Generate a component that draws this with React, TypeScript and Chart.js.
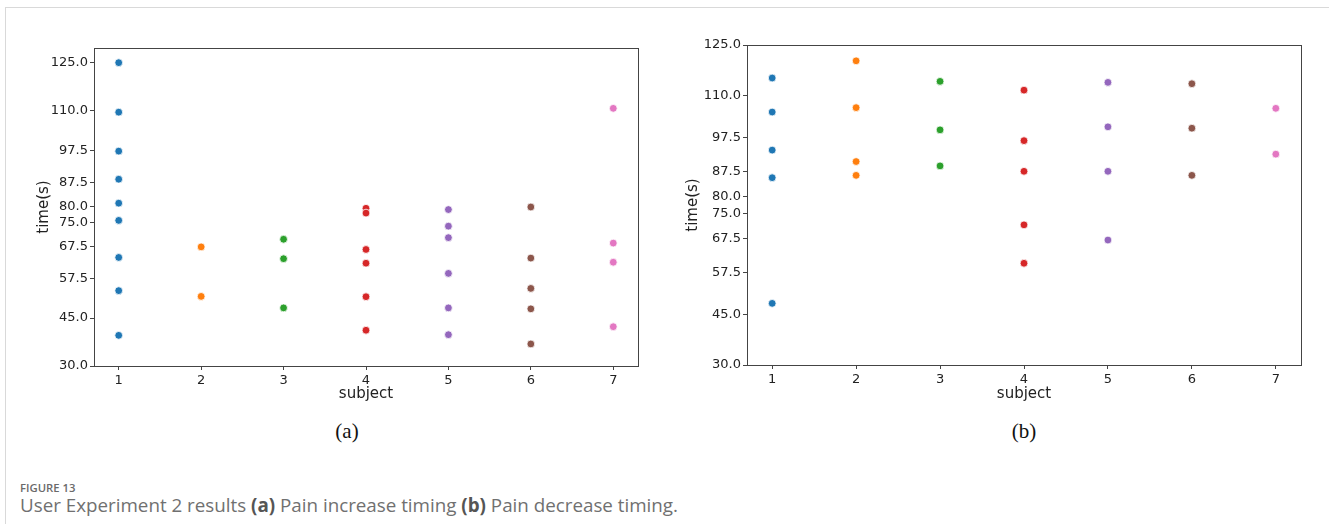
import React, { useEffect, useRef } from "react";
import { Chart, registerables } from "chart.js";

Chart.register(...registerables);

const subjects = [1, 2, 3, 4, 5, 6, 7];
const yTicks = [30, 45, 57.5, 67.5, 75, 80, 87.5, 97.5, 110, 125];
const colors = ["#1f77b4", "#ff7f0e", "#2ca02c", "#d62728", "#9467bd", "#8c564b", "#e377c2"];

// (a) Pain increase timing, one array per subject
const incS1 = [125.0, 109.5, 97.3, 88.5, 81.0, 75.6, 64.0, 53.6, 39.6];
const incS2 = [67.3, 51.8];
const incS3 = [69.7, 63.6, 48.2];
const incS4 = [79.4, 77.9, 66.5, 62.2, 51.7, 41.2];
const incS5 = [79.0, 73.8, 70.2, 59.0, 48.2, 39.8];
const incS6 = [79.8, 63.8, 54.3, 47.9, 36.9];
const incS7 = [110.7, 68.5, 62.5, 42.3];

// (b) Pain decrease timing, one array per subject
const decS1 = [115.2, 105.1, 93.8, 85.6, 48.3];
const decS2 = [120.3, 106.4, 90.4, 86.3];
const decS3 = [114.2, 99.8, 89.1];
const decS4 = [111.6, 96.6, 87.5, 71.6, 60.2];
const decS5 = [113.9, 100.7, 87.5, 67.1];
const decS6 = [113.5, 100.3, 86.3];
const decS7 = [106.2, 92.6];

const increaseGroups = [incS1, incS2, incS3, incS4, incS5, incS6, incS7];
const decreaseGroups = [decS1, decS2, decS3, decS4, decS5, decS6, decS7];

const tickFont = { family: "'DejaVu Sans', sans-serif", size: 13 };
const titleFont = { family: "'DejaVu Sans', sans-serif", size: 15 };
const textColor = "#222";
const axisColor = "#444";

const framePlugin = {
  id: "frame",
  beforeDatasetsDraw(chart: any) {
    const { ctx, chartArea } = chart;
    const { left, top, right, bottom } = chartArea;
    ctx.save();
    ctx.strokeStyle = axisColor;
    ctx.lineWidth = 1;
    ctx.strokeRect(Math.round(left) + 0.5, Math.round(top) + 0.5, Math.round(right - left), Math.round(bottom - top));
    ctx.restore();
  },
};

type PanelProps = {
  groups: number[][];
  left: number;
  width: number;
  height: number;
  padTop: number;
  padRight: number;
  yWidth: number;
  xHeight: number;
  yMax: number;
  yTitlePad: number;
  xTitlePad: number;
};

function Panel(p: PanelProps) {
  const ref = useRef<HTMLCanvasElement | null>(null);
  useEffect(() => {
    if (!ref.current) return;
    const datasets = p.groups.map((vals, i) => ({
      label: String(subjects[i]),
      data: vals.map((v) => ({ x: subjects[i], y: v })),
      backgroundColor: colors[i],
      borderColor: "#ffffff",
      borderWidth: 0.8,
      pointRadius: 3.9,
      pointHoverRadius: 3.9,
      showLine: false,
      clip: false as any,
    }));
    const chart = new Chart(ref.current, {
      type: "scatter",
      data: { datasets },
      plugins: [framePlugin],
      options: {
        animation: false,
        responsive: false,
        maintainAspectRatio: false,
        layout: { padding: { top: p.padTop, right: p.padRight, left: 0, bottom: 0 } },
        plugins: { legend: { display: false }, tooltip: { enabled: false } },
        scales: {
          x: {
            type: "linear",
            min: 0.7,
            max: 7.3,
            afterBuildTicks: (s: any) => {
              s.ticks = subjects.map((v) => ({ value: v }));
            },
            afterFit: (s: any) => {
              s.height = p.xHeight;
            },
            ticks: { autoSkip: false, maxRotation: 0, font: tickFont, color: textColor, padding: 3 },
            grid: { drawOnChartArea: false, drawTicks: true, tickLength: 4, color: axisColor },
            border: { display: false },
            title: { display: true, text: "subject", font: titleFont, color: textColor, padding: { top: 0, bottom: p.xTitlePad } },
          },
          y: {
            type: "linear",
            min: 30,
            max: p.yMax,
            afterBuildTicks: (s: any) => {
              s.ticks = yTicks.map((v) => ({ value: v }));
            },
            afterFit: (s: any) => {
              s.width = p.yWidth;
            },
            ticks: {
              autoSkip: false,
              font: tickFont,
              color: textColor,
              padding: 2,
              callback: (v: any) => Number(v).toFixed(1),
            },
            grid: { drawOnChartArea: false, drawTicks: true, tickLength: 4, color: axisColor },
            border: { display: false },
            title: { display: true, text: "time(s)", font: titleFont, color: textColor, padding: { top: p.yTitlePad, bottom: 0 } },
          },
        },
      } as any,
    });
    return () => chart.destroy();
  }, []);
  return (
    <canvas
      ref={ref}
      width={p.width}
      height={p.height}
      style={{ position: "absolute", left: p.left, top: 0, width: p.width, height: p.height }}
    />
  );
}

const serif = "'Liberation Serif', 'Times New Roman', serif";
const sans = "'Open Sans', 'Noto Sans', sans-serif";

export default function App() {
  return (
    <div style={{ position: "absolute", left: 0, top: 0, width: 1329, height: 524, background: "#fff", overflow: "hidden" }}>
      <div
        style={{
          position: "absolute",
          left: 5,
          top: 7,
          width: 1330,
          height: 530,
          borderTop: "1px solid #d9d9d9",
          borderLeft: "1px solid #d9d9d9",
        }}
      />
      <Panel
        groups={increaseGroups}
        left={0}
        width={670}
        height={410}
        padTop={48}
        padRight={32}
        yWidth={94}
        xHeight={44}
        yMax={129.6}
        yTitlePad={35}
        xTitlePad={7}
      />
      <Panel
        groups={decreaseGroups}
        left={665}
        width={664}
        height={410}
        padTop={45}
        padRight={28}
        yWidth={82}
        xHeight={45}
        yMax={125}
        yTitlePad={19}
        xTitlePad={7}
      />
      <div style={{ position: "absolute", left: 347, top: 431, transform: "translate(-50%, -50%)", fontFamily: serif, fontSize: 21, color: "#111", whiteSpace: "nowrap" }}>
        (a)
      </div>
      <div style={{ position: "absolute", left: 1024, top: 431, transform: "translate(-50%, -50%)", fontFamily: serif, fontSize: 21, color: "#111", whiteSpace: "nowrap" }}>
        (b)
      </div>
      <div style={{ position: "absolute", left: 20, top: 487, transform: "translateY(-50%)", fontFamily: sans, fontWeight: 600, fontSize: 11.3, color: "#6a6a6a", whiteSpace: "nowrap" }}>
        FIGURE 13
      </div>
      <div style={{ position: "absolute", left: 20, top: 505, transform: "translateY(-50%)", fontFamily: sans, fontWeight: 400, fontSize: 18.8, color: "#707070", whiteSpace: "nowrap" }}>
        User Experiment 2 results <b style={{ fontWeight: 700, color: "#555" }}>(a)</b> Pain increase timing <b style={{ fontWeight: 700, color: "#555" }}>(b)</b> Pain decrease timing.
      </div>
    </div>
  );
}
